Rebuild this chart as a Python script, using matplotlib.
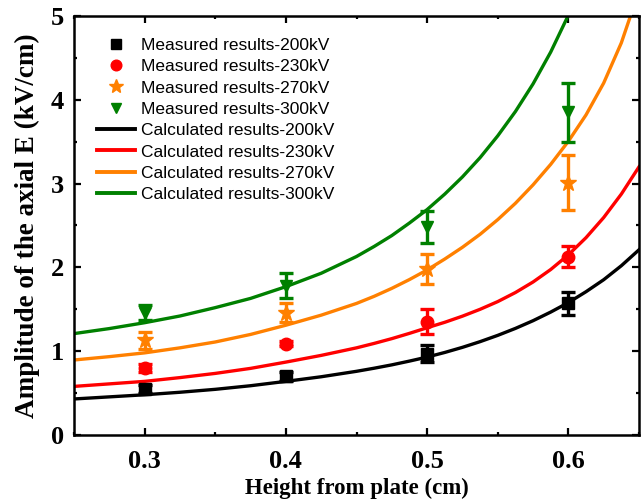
import matplotlib
matplotlib.use("Agg")
import matplotlib.pyplot as plt
from matplotlib.lines import Line2D
from matplotlib.ticker import MultipleLocator

# Measured points (height in cm, field in kV/cm) with error half-widths
heights = [0.3, 0.4, 0.5, 0.6]
meas_200 = [0.55, 0.70, 0.97, 1.57]
err_200 = [0.05, 0.05, 0.10, 0.14]
meas_230 = [0.80, 1.09, 1.35, 2.13]
err_230 = [0.05, 0.03, 0.15, 0.13]
meas_270 = [1.13, 1.46, 1.98, 3.01]
err_270 = [0.10, 0.11, 0.18, 0.33]
meas_300 = [1.46, 1.78, 2.48, 3.85]
err_300 = [0.09, 0.15, 0.19, 0.35]

# Calculated curves (finer sampling where they steepen)
calc_x = [0.25, 0.275, 0.30, 0.325, 0.35, 0.375, 0.40, 0.425, 0.45,
          0.4625, 0.475, 0.4875, 0.50, 0.5125, 0.525, 0.5375, 0.55,
          0.5625, 0.575, 0.5875, 0.60, 0.6125, 0.625, 0.6375, 0.65]
calc_200 = [0.43, 0.455, 0.48, 0.51, 0.545, 0.588, 0.64, 0.695, 0.76,
            0.797, 0.837, 0.882, 0.93, 0.985, 1.046, 1.114, 1.189,
            1.272, 1.364, 1.467, 1.58, 1.71, 1.853, 2.02, 2.21]
calc_230 = [0.58, 0.61, 0.64, 0.685, 0.735, 0.795, 0.87, 0.95, 1.04,
            1.093, 1.15, 1.213, 1.28, 1.345, 1.418, 1.50, 1.592,
            1.70, 1.826, 1.975, 2.15, 2.355, 2.595, 2.875, 3.20]
calc_270 = [0.895, 0.935, 0.98, 1.04, 1.11, 1.20, 1.31, 1.43, 1.57,
            1.655, 1.75, 1.855, 1.97, 2.10, 2.24, 2.395, 2.57,
            2.765, 2.985, 3.23, 3.505, 3.82, 4.20, 4.68, 5.30]
calc_300 = [1.21, 1.27, 1.34, 1.42, 1.52, 1.63, 1.77, 1.93, 2.13,
            2.25, 2.38, 2.53, 2.69, 2.875, 3.08, 3.31, 3.57,
            3.86, 4.19, 4.57, 5.01, 5.52, 6.10, 6.75, 7.50]

voltages = ["200kV", "230kV", "270kV", "300kV"]
colors = ["#000000", "#FF0000", "#FF8000", "#008000"]
markers = ["s", "o", "*", "v"]
msizes = [8, 9, 12, 9]

fig = plt.figure(figsize=(6.42, 5.01), dpi=100)
ax = fig.add_axes([74 / 642, 1 - 435 / 501, (639 - 74) / 642, (435 - 16) / 501])

curves = [calc_200, calc_230, calc_270, calc_300]
measured = [meas_200, meas_230, meas_270, meas_300]
errors = [err_200, err_230, err_270, err_300]

for c, ys in zip(colors, curves):
    ax.plot(calc_x, ys, color=c, lw=2.4, zorder=2, solid_joinstyle="round")

for c, m, ms, ys, es in zip(colors, markers, msizes, measured, errors):
    ax.errorbar(heights, ys, yerr=es, fmt=m, color=c, ms=ms, mec=c,
                elinewidth=2.4, capsize=5, capthick=2.4, zorder=3)

ax.set_xlim(0.25, 0.65)
ax.set_ylim(0, 5)
ax.xaxis.set_major_locator(MultipleLocator(0.1))
ax.xaxis.set_minor_locator(MultipleLocator(0.05))
ax.yaxis.set_major_locator(MultipleLocator(1))
ax.yaxis.set_minor_locator(MultipleLocator(0.5))
ax.tick_params(which="both", direction="in", top=True, right=True, width=1.6)
ax.tick_params(which="major", length=5)
ax.tick_params(which="minor", length=2.5)
for s in ax.spines.values():
    s.set_linewidth(1.8)

tick_font = dict(family="Liberation Serif", weight="bold", size=19)
ax.set_xticks([0.3, 0.4, 0.5, 0.6])
ax.set_xticklabels(["0.3", "0.4", "0.5", "0.6"], **tick_font)
ax.set_yticks([0, 1, 2, 3, 4, 5])
ax.set_yticklabels(["0", "1", "2", "3", "4", "5"], **tick_font)
ax.tick_params(axis="x", pad=11)
ax.tick_params(axis="y", pad=7)

ax.set_xlabel("Height from plate (cm)", family="Liberation Serif",
              weight="bold", size=16.5, labelpad=3)
ax.set_ylabel("Amplitude of the axial E (kV/cm)", family="Liberation Serif",
              weight="bold", size=19.5, labelpad=8)

handles = []
labels = []
for c, m, ms, v in zip(colors, markers, msizes, voltages):
    handles.append(Line2D([], [], ls="none", marker=m, color=c, ms=ms * 0.85))
    labels.append("Measured results-" + v)
for c, v in zip(colors, voltages):
    handles.append(Line2D([], [], color=c, lw=2.8))
    labels.append("Calculated results-" + v)

ax.legend(handles, labels, loc="upper left", bbox_to_anchor=(0.041, 0.948),
          frameon=False, prop=dict(family="Liberation Sans", size=12.5),
          handlelength=2.2, handletextpad=0.35, labelspacing=0.355,
          borderaxespad=0.0, borderpad=0.0)

fig.savefig("out.png", dpi=100)
